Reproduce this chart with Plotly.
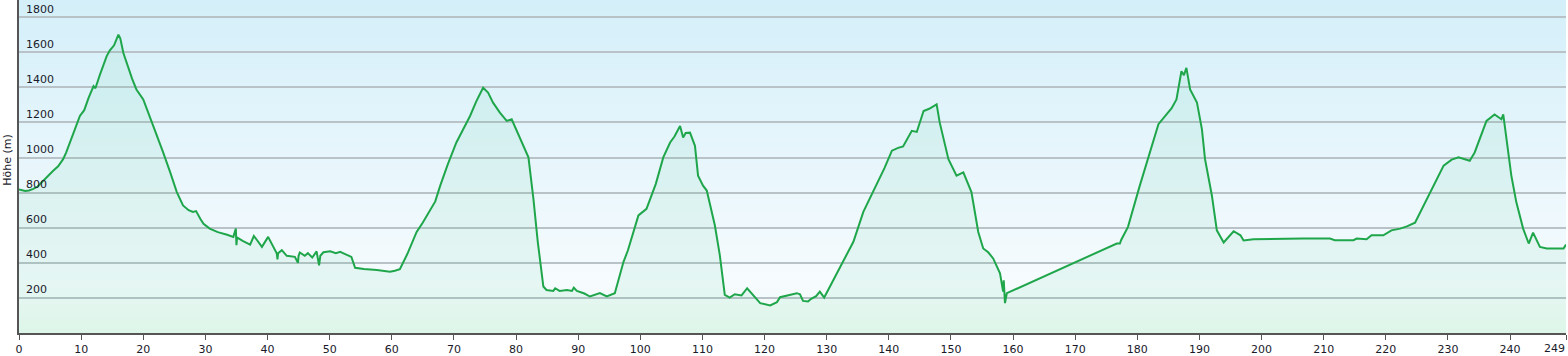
import plotly.graph_objects as go

km = [0, 0.5, 1.0, 1.6, 2.3, 3.0, 3.9, 4.7, 5.5, 6.3, 7.1, 7.6, 8.2, 9.0, 9.8, 10.5, 11.2, 12.0, 12.3,
      13.0, 14.1, 14.6, 15.3, 16.0, 16.3, 16.8, 17.5, 18.2, 18.9, 20.0, 21.6, 22.5, 23.2, 24.3, 25.4,
      26.4, 27.3, 28.0, 28.5, 29.2, 29.7, 30.7, 32.0, 33.5, 34.5, 34.9, 35.0, 35.1, 36.0, 37.2, 37.8,
      38.3, 39.1, 40.1, 40.9, 41.5, 41.6, 41.7, 42.3, 43.1, 44.4, 44.9, 45.0, 45.2, 46.0, 46.5, 47.2,
      47.9, 48.3, 48.5, 49.0, 50.1, 51.0, 51.7, 52.5, 53.5, 54.1, 55.5, 57.6, 58.5, 59.7, 60.5, 61.3,
      62.5, 64.0, 65.0, 66.2, 67.0, 67.8, 69.0, 70.4, 71.5, 72.6, 73.6, 74.7, 75.5, 76.3, 77.4, 78.5,
      79.3, 80.6, 81.5, 82.0, 82.8, 83.5, 84.4, 84.9, 86.0, 86.3, 87.0, 88.2, 89.0, 89.3, 89.8, 91.0,
      91.9, 93.5, 94.6, 95.9, 97.3, 98.0, 99.7, 101.0, 102.5, 103.7, 104.8, 105.5, 106.4, 106.9, 107.3,
      108.0, 108.8, 109.3, 110.1, 110.7, 112.0, 112.8, 113.6, 114.4, 115.2, 116.3, 117.2, 118.2, 119.3,
      120.9, 122.0, 122.5, 125.2, 125.7, 126.2, 127.0, 127.5, 128.3, 128.9, 129.6, 131.1, 132.7, 134.3,
      135.9, 138.0, 139.3, 140.5, 141.5, 142.3, 143.7, 144.5, 145.6, 146.5, 147.4, 147.7, 148.2, 149.6,
      150.9, 152.0, 153.3, 154.4, 155.2, 156.0, 156.8, 157.9, 158.4, 158.5, 158.7, 159.0, 176.7, 177.2,
      177.4, 178.5, 180.4, 182.0, 183.4, 184.7, 185.5, 186.3, 187.1, 187.5, 187.9, 188.5, 189.6, 190.4,
      190.9, 192.0, 192.8, 193.9, 195.5, 196.6, 197.1, 198.7, 203.5, 206.7, 211.0, 211.8, 214.8, 215.3,
      216.9, 217.7, 219.6, 220.9, 222.3, 223.4, 224.7, 226.6, 229.3, 230.6, 231.7, 233.5, 234.3, 236.2,
      237.5, 238.6, 238.9, 240.2, 241.0, 242.1, 243.0, 243.7, 244.8, 245.9, 248.6, 249.0]

elev = [818, 812, 809, 812, 821, 835, 869, 895, 925, 950, 991, 1030, 1086, 1160, 1237, 1270, 1340, 1407, 1395,
        1470, 1577, 1610, 1640, 1700, 1680, 1596, 1520, 1450, 1388, 1331, 1180, 1100, 1029, 920, 803,
        727, 700, 690, 695, 650, 623, 595, 575, 560, 548, 595, 500, 545, 525, 504, 553,
        530, 491, 548, 491, 453, 420, 455, 472, 440, 434, 400, 440, 459, 440, 455, 430,
        465, 385, 440, 460, 466, 455, 463, 450, 434, 372, 365, 359, 355, 349, 355, 364,
        450, 576, 630, 699, 750, 840, 960, 1086, 1160, 1237, 1320, 1398, 1370, 1313, 1256, 1209,
        1218, 1114, 1040, 1001, 765, 520, 265, 245, 240, 255, 240, 245, 240, 258, 240, 225,
        208, 227, 208, 227, 406, 470, 670, 708, 850, 1001, 1086, 1120, 1180, 1114, 1140,
        1142, 1067, 897, 840, 812, 614, 444, 217, 202, 221, 214, 255, 217, 170,
        157, 176, 204, 227, 221, 183, 180, 195, 210, 236, 202, 302, 406, 520,
        690, 840, 940, 1039, 1055, 1063, 1152, 1146, 1265, 1278, 1294, 1303, 1199, 991,
        897, 916, 803, 576, 482, 460, 425, 340, 236, 300, 170, 227, 510, 510,
        530, 605, 840, 1029, 1190, 1246, 1280, 1331, 1492, 1470, 1511, 1388, 1313, 1161,
        991, 784, 585, 516, 580, 557, 527, 534, 538, 538, 538, 529, 529, 538,
        534, 557, 557, 585, 595, 608, 629, 765, 954, 988, 1001, 982, 1029, 1209,
        1246, 1218, 1246, 897, 746, 595, 510, 572, 491, 482, 482, 504]

x_ticks = [0, 10, 20, 30, 40, 50, 60, 70, 80, 90, 100, 110, 120, 130, 140, 150, 160,
           170, 180, 190, 200, 210, 220, 230, 240, 249]
y_ticks = [200, 400, 600, 800, 1000, 1200, 1400, 1600, 1800]
y_title = "Höhe (m)"

Y_MAX = 1898
X_MAX = 249
FONT = "DejaVu Sans"
TXT = "#1a1a2a"

fig = go.Figure()
fig.add_trace(go.Scatter(
    x=km, y=elev, mode="lines",
    line=dict(color="#1fa64b", width=2),
    fill="tozeroy",
    fillcolor="rgba(70,200,130,0.09)",
    hoverinfo="skip",
    showlegend=False,
))

# vertical background gradient (light blue at top to near-white/green at bottom)
shapes = []
n = 80
top = (212, 239, 249)
mid = (246, 251, 254)
bot = (238, 251, 244)
for i in range(n):
    f0 = i / n
    f1 = (i + 1) / n
    fc = (f0 + f1) / 2  # 0 at bottom, 1 at top
    if fc >= 0.15:
        t = (fc - 0.15) / 0.85
        c = tuple(int(round(mid[k] + (top[k] - mid[k]) * t)) for k in range(3))
    else:
        t = fc / 0.15
        c = tuple(int(round(bot[k] + (mid[k] - bot[k]) * t)) for k in range(3))
    shapes.append(dict(type="rect", xref="paper", yref="paper", x0=0, x1=1, y0=f0, y1=f1 + 0.002,
                       fillcolor="rgb(%d,%d,%d)" % c, line=dict(width=0), layer="below"))

annotations = []
for v in y_ticks:
    annotations.append(dict(x=0, xref="paper", y=v, yref="y", text=str(v), showarrow=False,
                            xanchor="left", yanchor="middle", xshift=5, yshift=8,
                            font=dict(family=FONT, size=11, color=TXT)))
annotations.append(dict(x=0, xref="paper", y=0.52, yref="paper", text=y_title, showarrow=False,
                        textangle=-90, xanchor="center", yanchor="middle", xshift=-11,
                        font=dict(family=FONT, size=11, color=TXT)))
# last x tick label is right-aligned to its tick so it stays inside the picture
annotations.append(dict(x=x_ticks[-1], xref="x", y=0, yref="paper", text=str(x_ticks[-1]),
                        showarrow=False, xanchor="right", yanchor="top", yshift=-7, xshift=1,
                        font=dict(family=FONT, size=11, color=TXT)))

tick_text = [str(t) for t in x_ticks[:-1]] + [""]

fig.update_layout(
    width=1568, height=356,
    margin=dict(l=19, r=2, t=0, b=21),
    paper_bgcolor="white",
    plot_bgcolor="rgba(0,0,0,0)",
    shapes=shapes,
    annotations=annotations,
    xaxis=dict(range=[0, X_MAX], tickvals=x_ticks, ticktext=tick_text,
               showgrid=False, zeroline=False, showline=True, linecolor="#555555", linewidth=2,
               ticks="outside", ticklen=5, tickcolor="#555555", tickwidth=1,
               tickfont=dict(family=FONT, size=11, color=TXT), fixedrange=True),
    yaxis=dict(range=[0, Y_MAX], tickvals=y_ticks, showticklabels=False,
               showgrid=True, gridcolor="#b9c3c7", gridwidth=1.5, zeroline=False,
               showline=True, linecolor="#555555", linewidth=2, ticks="", fixedrange=True),
    showlegend=False,
)

fig.write_html("out.html", config={"displayModeBar": False},
               post_script="document.body.style.margin='0';document.body.style.overflow='hidden';")
